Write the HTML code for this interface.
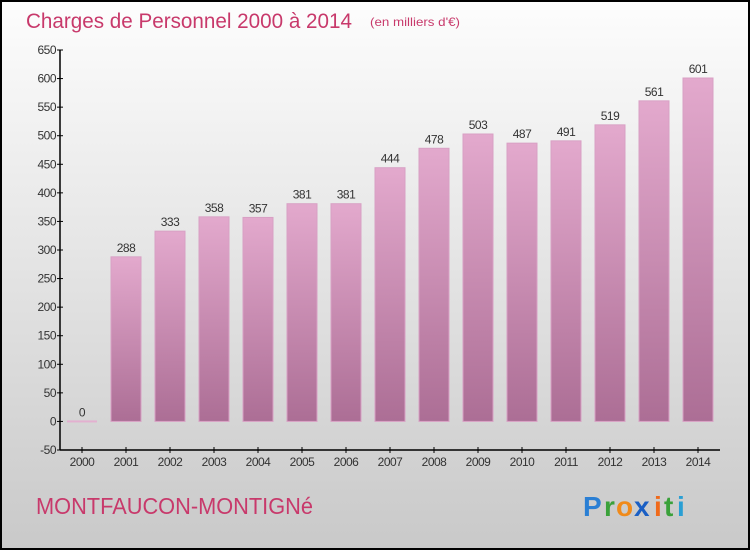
<!DOCTYPE html>
<html><head><meta charset="utf-8"><style>
body{margin:0;padding:0;}
#wrap{width:750px;height:550px;position:relative;overflow:hidden;}
svg text{font-family:"Liberation Sans",sans-serif;}
</style></head><body>
<div id="wrap">
<svg id="chart" width="750" height="550" xmlns="http://www.w3.org/2000/svg">
<defs>
<linearGradient id="bg" x1="0" y1="0" x2="0" y2="1"><stop offset="0" stop-color="#fdfdfd"/><stop offset="1" stop-color="#c9c9c9"/></linearGradient>
<linearGradient id="bar" x1="0" y1="0" x2="0" y2="1"><stop offset="0" stop-color="#e3a9cd"/><stop offset="1" stop-color="#ac6e95"/></linearGradient>
</defs>
<rect x="1" y="1" width="748" height="548" fill="url(#bg)" stroke="#000" stroke-width="2"/>
<text x="26" y="28" font-size="21" fill="#c8396b" textLength="326" lengthAdjust="spacingAndGlyphs">Charges de Personnel 2000 à 2014</text>
<text x="370" y="26" font-size="12" fill="#c8396b" textLength="90" lengthAdjust="spacingAndGlyphs">(en milliers d'€)</text>
<text x="36" y="514" font-size="23" fill="#c8396b" textLength="277" lengthAdjust="spacingAndGlyphs">MONTFAUCON-MONTIGNé</text>
<g font-size="28" font-family="Liberation Sans" font-weight="bold">
<text x="583" y="516" fill="#2a7fd4">P</text><text x="604" y="516" fill="#3aa13a">r</text><text x="616" y="516" fill="#f08a1a">o</text><text x="634" y="516" fill="#1a5fc4">x</text><text x="654" y="516" fill="#f06a1a">i</text><text x="664" y="516" fill="#3aa13a">t</text><text x="677" y="516" fill="#2a9fd4">i</text>
</g>
<g id="plot"></g>
</svg>
</div>
<script>
const categories=["2000","2001","2002","2003","2004","2005","2006","2007","2008","2009","2010","2011","2012","2013","2014"];
const values=[0,288,333,358,357,381,381,444,478,503,487,491,519,561,601];
const yTicks=[-50,0,50,100,150,200,250,300,350,400,450,500,550,600,650];
const NS="http://www.w3.org/2000/svg";
const g=document.getElementById('plot');
const L=60,R=720,T=50,B=450,ymin=-50,ymax=650;
const y=v=>B-(v-ymin)/(ymax-ymin)*(B-T);
const slot=(R-L)/categories.length;
const xc=i=>L+slot*(i+0.5);
function mk(t,a){const e=document.createElementNS(NS,t);for(const k in a)e.setAttribute(k,a[k]);g.appendChild(e);return e;}
yTicks.forEach(v=>{
  const l=mk('line',{x1:L-3,x2:L+3,y1:y(v),y2:y(v),stroke:'#000'});
  
  
  const t=mk('text',{x:L-4,y:y(v)+4,'font-size':12,'text-anchor':'end',fill:'#333','letter-spacing':'-0.5'});
  t.textContent=v;
  
  
});
categories.forEach((c,i)=>{
  const v=values[i];
  if(v>0){
    const r=mk('rect',{x:xc(i)-15,y:y(v),width:30,height:y(0)-y(v),fill:'url(#bar)',stroke:'#d8a0c4','stroke-width':1});
    
    
  } else {
    const r=mk('rect',{x:xc(i)-15,y:y(0)-1,width:30,height:2,fill:'#e3b0d0'});
    
    
  }
  const t=mk('text',{x:xc(i),y:y(v)-5,'font-size':12,'text-anchor':'middle',fill:'#333','letter-spacing':'-0.5'});
  t.textContent=v;
  
  
  const tk=mk('line',{x1:xc(i),x2:xc(i),y1:B-3,y2:B+3,stroke:'#000'});
  
  
  const xl=mk('text',{x:xc(i),y:B+16,'font-size':12,'text-anchor':'middle',fill:'#333','letter-spacing':'-0.5'});
  xl.textContent=c;
  
  
});
const ya=mk('line',{x1:L,x2:L,y1:T,y2:B,stroke:'#000','stroke-width':1.5});


const xa=mk('line',{x1:L,x2:R,y1:B,y2:B,stroke:'#000','stroke-width':1.5});


</script>
</body></html>
